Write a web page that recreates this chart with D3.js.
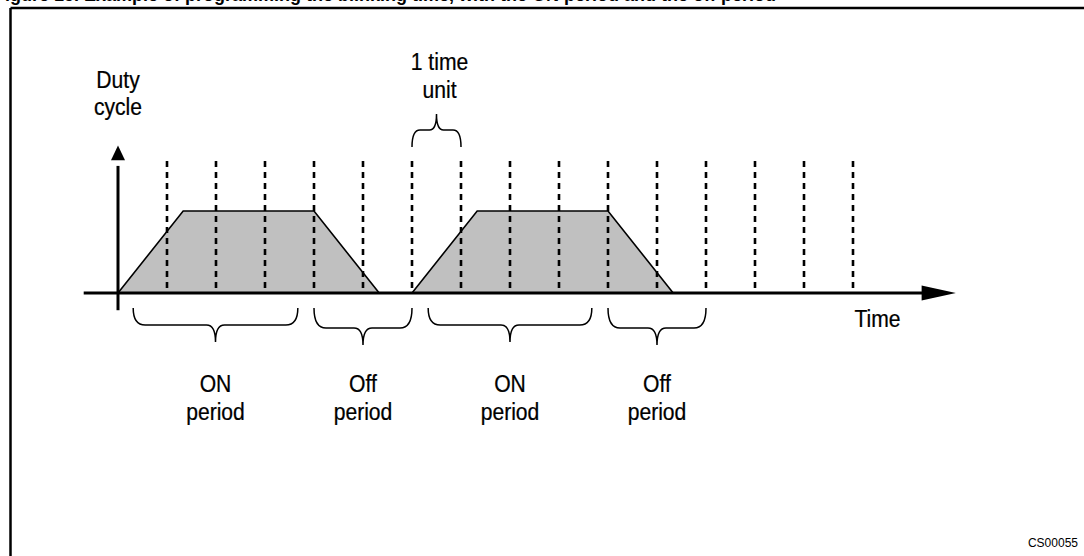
<!DOCTYPE html>
<html>
<head>
<meta charset="utf-8">
<script src="https://cdn.jsdelivr.net/npm/d3@7"></script>
<style>
  html, body { margin: 0; padding: 0; background: #fff; }
  svg { display: block; }
</style>
</head>
<body>
<svg id="chart" width="1084" height="556"></svg>
<script>
// ---- data ----
const titleText = "Figure 15. Example of programming the blinking time, with the ON period and the off period";
const gridTimes = [1, 2, 3, 4, 5, 6, 7, 8, 9, 10, 11, 12, 13, 14, 15];
const pulse1Times = [0, 1.33, 4, 5.33];
const pulse2Times = [6, 7.33, 10, 11.33];
const pulseLevels = [0, 1, 1, 0];
const periodLabels = ["ON", "Off", "ON", "Off"];
const periodStart = [0.31, 4, 6.33, 10];
const periodEnd = [3.67, 6, 9.67, 12];
const unitBrace = [6, 7];
const yAxisLabel = ["Duty", "cycle"];
const unitLabel = ["1 time", "unit"];
const xAxisLabel = "Time";
const figCode = "CS00055";

// ---- scales ----
const x = d3.scaleLinear().domain([0, 1]).range([118, 167]);
const y = d3.scaleLinear().domain([0, 1]).range([293, 211]);

const svg = d3.select("#chart");
const FONT = "'Liberation Sans', Arial, Helvetica, sans-serif";

// title (clipped at top, as in the reference)
svg.append("text")
  .attr("x", -6).attr("y", 1)
  .attr("font-family", FONT).attr("font-weight", "bold").attr("font-size", 18)
  .text(titleText);

// frame
svg.append("line").attr("x1", 10.5).attr("x2", 1084).attr("y1", 8).attr("y2", 8)
  .attr("stroke", "#000").attr("stroke-width", 2.5);
svg.append("line").attr("x1", 10.5).attr("x2", 10.5).attr("y1", 8).attr("y2", 556)
  .attr("stroke", "#000").attr("stroke-width", 2.5);

// pulses
const area = d3.line().x(d => x(d[0])).y(d => y(d[1]));
[pulse1Times, pulse2Times].forEach(times => {
  const pts = times.map((t, i) => [t, pulseLevels[i]]);
  svg.append("path")
    .attr("d", area(pts) + "Z")
    .attr("fill", "#c0c0c0")
    .attr("stroke", "none");
  svg.append("path")
    .attr("d", area(pts))
    .attr("fill", "none")
    .attr("stroke", "#000")
    .attr("stroke-width", 1.6);
});

// dashed grid lines (time units)
svg.selectAll("line.grid").data(gridTimes).join("line")
  .attr("class", "grid")
  .attr("x1", d => x(d)).attr("x2", d => x(d))
  .attr("y1", y(1.61)).attr("y2", y(0.06))
  .attr("stroke", "#000").attr("stroke-width", 2.6)
  .attr("stroke-dasharray", "6,5");

// axes
svg.append("line")
  .attr("x1", x(-0.7)).attr("x2", x(16.85))
  .attr("y1", y(0)).attr("y2", y(0))
  .attr("stroke", "#000").attr("stroke-width", 3);
svg.append("path")
  .attr("d", `M${x(16.4)},${y(0) - 7.5} L${x(17.1)},${y(0)} L${x(16.4)},${y(0) + 7.5} Z`)
  .attr("fill", "#000");
svg.append("line")
  .attr("x1", x(0)).attr("x2", x(0))
  .attr("y1", y(-0.21)).attr("y2", y(1.55))
  .attr("stroke", "#000").attr("stroke-width", 3);
svg.append("path")
  .attr("d", `M${x(0) - 7},${y(1.62)} L${x(0)},${y(1.8)} L${x(0) + 7},${y(1.62)} Z`)
  .attr("fill", "#000");

// curly brace path
function bracePath(x1, x2, yTip, depth, cusp, r, rc) {
  const yH = yTip + depth, yC = yH + cusp, xc = (x1 + x2) / 2;
  return `M${x1},${yTip} Q${x1},${yH} ${x1 + r},${yH}` +
    ` L${xc - rc},${yH} Q${xc},${yH} ${xc},${yC}` +
    ` Q${xc},${yH} ${xc + rc},${yH} L${x2 - r},${yH} Q${x2},${yH} ${x2},${yTip}`;
}

function label(t, tx, ty) {
  svg.append("text")
    .attr("transform", `translate(${tx},${ty}) scale(0.88,1)`)
    .attr("text-anchor", "middle")
    .attr("font-family", FONT).attr("font-size", 24)
    .attr("stroke", "#000").attr("stroke-width", 0.25)
    .text(t);
}

// period braces + labels
periodLabels.forEach((lab, i) => {
  const x1 = x(periodStart[i]), x2 = x(periodEnd[i]);
  const isOn = lab === "ON";
  svg.append("path")
    .attr("d", bracePath(x1, x2, 308, isOn ? 17 : 20, 17, 12, 9))
    .attr("fill", "none").attr("stroke", "#000").attr("stroke-width", 1.5);
  const cx = (x1 + x2) / 2;
  [lab, "period"].forEach((t, j) => label(t, cx, 392 + j * 28));
});

// 1 time unit brace
svg.append("path")
  .attr("d", bracePath(x(unitBrace[0]), x(unitBrace[1]), 147, -17, -16, 8, 7))
  .attr("fill", "none").attr("stroke", "#000").attr("stroke-width", 1.5);
unitLabel.forEach((t, j) => label(t, x((unitBrace[0] + unitBrace[1]) / 2) + 3, 70 + j * 28));

// y axis label
yAxisLabel.forEach((t, j) => label(t, x(0), 88 + j * 27));

// x axis label
label(xAxisLabel, x(15.5), 327);

// figure code
svg.append("text")
  .attr("x", 1078).attr("y", 547)
  .attr("text-anchor", "end")
  .attr("font-family", FONT).attr("font-size", 12)
  .text(figCode);
</script>
</body>
</html>
